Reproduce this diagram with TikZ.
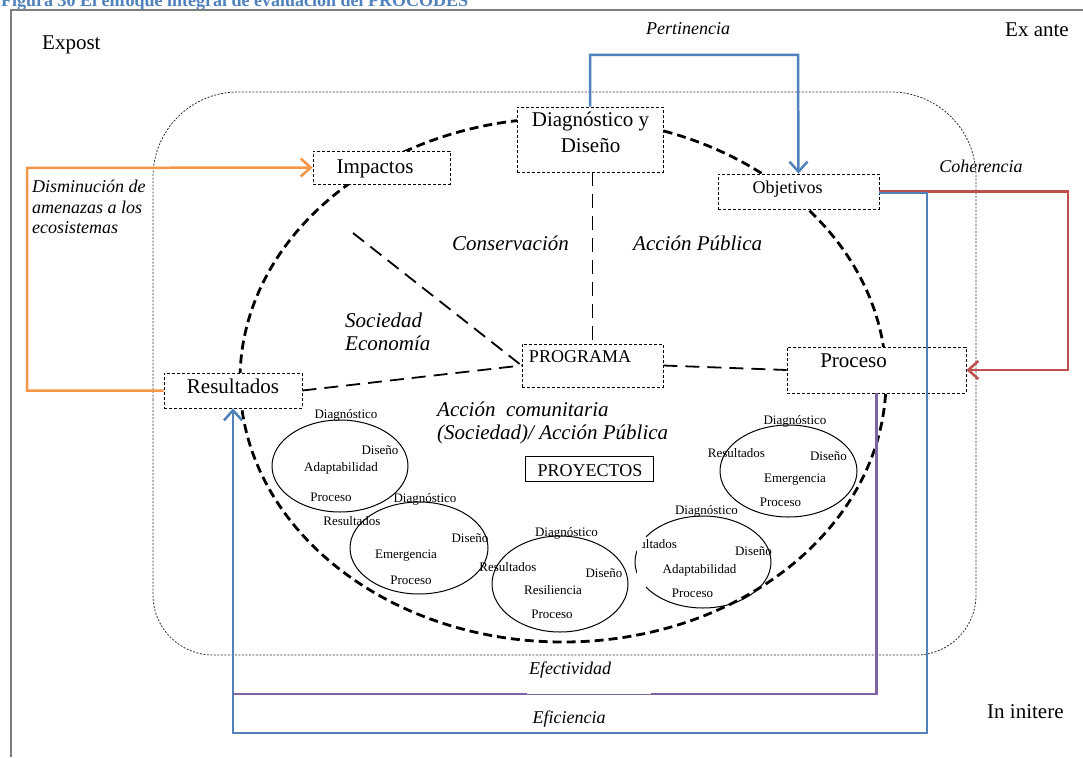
\documentclass[tikz,border=0pt]{standalone}
\usepackage{fontspec}
\setmainfont{Liberation Serif}
\usetikzlibrary{arrows.meta,calc}

\definecolor{headblue}{RGB}{79,129,189}
\definecolor{lnblue}{RGB}{79,129,189}
\definecolor{lnred}{RGB}{192,80,77}
\definecolor{lnorange}{RGB}{247,150,70}
\definecolor{lnpurple}{RGB}{128,100,162}
\definecolor{framegray}{RGB}{125,125,125}

\newcommand{\fsz}[2]{\fontsize{#1}{#2}\selectfont}

\tikzset{
  dbox/.style={draw, dash pattern=on 3pt off 2pt, line width=0.9pt, fill=white, inner sep=0pt},
  sbox/.style={draw, line width=0.9pt, fill=white, inner sep=0pt},
  txtL/.style={font=\fsz{21}{25}, inner sep=0pt, anchor=base},
  txtM/.style={font=\fsz{18}{21}, inner sep=0pt, anchor=base},
  txtS/.style={font=\fsz{13}{15}, inner sep=0pt, anchor=base},
  zoneTxt/.style={font=\fsz{21}{25}\itshape, inner sep=0pt, anchor=base west},
  flowTxt/.style={font=\fsz{18}{21}\itshape, inner sep=0pt, anchor=base},
  conn/.style={line width=2.5pt},
  endtip/.style={-{Straight Barb[length=10pt,width=18pt]}},
  ring/.style={line width=2.8pt, dash pattern=on 9pt off 5pt},
  spoke/.style={line width=1.8pt, dash pattern=on 14pt off 8pt},
  cell/.style={line width=1pt},
  hull/.style={line width=0.8pt, dash pattern=on 2pt off 1.5pt, black!80},
}

\begin{document}
\begin{tikzpicture}[x=1pt,y=-1pt]
\useasboundingbox (0,0) rectangle (1083,757);
\clip (0,0) rectangle (1083,757);
\fill[white] (0,0) rectangle (1083,757);

% caption and page frame
\node[font=\fsz{18}{21}\bfseries, text=headblue, anchor=base west, inner sep=0pt] (caption) at (1,7)
  {Figura 30 El enfoque integral de evaluación del PROCODES};
\draw[framegray, line width=1.5pt] (11,757) -- (11,10) -- (1083,10);

% phase labels
\node[txtL, anchor=base west] (expost) at (42,50) {Expost};
\node[txtL, anchor=base west] (exante) at (1005,37) {Ex ante};
\node[txtL, anchor=base west] (initere) at (987,718) {In initere};

% dotted outer hull
\draw[hull] (153,400) [rounded corners=85pt] -- (153,92) -- (976,92) -- (976,400)
  [rounded corners=60pt] -- (976,655) -- (153,655) -- (153,400);

% program ring
\draw[ring] (563,380) ellipse [x radius=323pt, y radius=262pt];

% boxes
\node[dbox, minimum width=146pt, minimum height=65pt] (diag) at (590,139.5) {};
\node[dbox, minimum width=137pt, minimum height=33pt] (imp) at (381.5,167.5) {};
\node[dbox, minimum width=161pt, minimum height=35pt] (obj) at (798.5,191.5) {};
\node[dbox, minimum width=141pt, minimum height=43pt] (prog) at (592.5,365.5) {};
\node[dbox, minimum width=179pt, minimum height=46pt] (proc) at (876.5,370) {};
\node[dbox, minimum width=138pt, minimum height=35pt] (res) at (233,390.5) {};

% spokes of the ring
\coordinate (sweep) at (353,233);
\draw[spoke] (diag.south -| prog.north) -- (prog.north);
\draw[spoke] (sweep) -- (prog.west);
\draw[spoke] (res.east) -- (prog.west);
\draw[spoke] (prog.east) -- (proc.west);

% redraw boxes on top of the spokes
\node[dbox, minimum width=146pt, minimum height=65pt] at (590,139.5) {};
\node[dbox, minimum width=141pt, minimum height=43pt] at (592.5,365.5) {};
\node[dbox, minimum width=179pt, minimum height=46pt] at (876.5,370) {};
\node[dbox, minimum width=138pt, minimum height=35pt] at (233,390.5) {};

% box texts
\node[txtL] (diagA) at (590.5,127) {Diagnóstico y};
\node[txtL] (diagB) at (590.5,152) {Diseño};
\node[txtL] (impT) at (375,173) {Impactos};
\node[txtM] (objT) at (787.5,193) {Objetivos};
\node[txtM] (progT) at (580,362) {PROGRAMA};
\node[txtL] (procT) at (853.5,367) {Proceso};
\node[txtL] (resT) at (233,393) {Resultados};
\node[sbox, minimum width=128pt, minimum height=25pt] (proy) at (589,468.5) {};
\node[txtM] (proyT) at (590,476) {PROYECTOS};

% zone labels
\node[zoneTxt] (zCons) at (452,250) {Conservación};
\node[zoneTxt] (zAcc) at (633,250) {Acción Pública};
\node[zoneTxt] (zSoc) at (345,327) {Sociedad};
\node[zoneTxt] (zEco) at (345,350) {Economía};
\node[zoneTxt] (zCom) at (437,416) {Acción~~comunitaria};
\node[zoneTxt] (zCom2) at (437,439) {(Sociedad)/ Acción Pública};

% project cells
\draw[cell] (340,466) ellipse [x radius=68pt, y radius=46pt];
\node[txtS] (a1) at (346,418) {Diagnóstico};
\node[txtS] (a2) at (380,454) {Diseño};
\node[txtS] (a3) at (341,471) {Adaptabilidad};
\node[txtS] (a4) at (331,501) {Proceso};

\draw[cell] (419,548) ellipse [x radius=69pt, y radius=46pt];
\node[txtS] (b1) at (425,502) {Diagnóstico};
\node[txtS] (b2) at (352,525) {Resultados};
\node[txtS] (b3) at (470,542) {Diseño};
\node[txtS] (b4) at (406,558) {Emergencia};
\node[txtS] (b5) at (411,584) {Proceso};

\draw[cell] (560,584) ellipse [x radius=68pt, y radius=48pt];
\node[txtS] (c1) at (566.5,536) {Diagnóstico};
\node[txtS] (c2) at (508,571) {Resultados};
\node[txtS] (c3) at (604,577) {Diseño};
\node[txtS] (c4) at (553,594) {Resiliencia};
\node[txtS] (c5) at (552,618) {Proceso};

\draw[cell] (703,562) ellipse [x radius=68pt, y radius=46pt];
\fill[white] (636.5,528) rectangle (646,592);
\begin{scope}
  \clip (642,530) rectangle (690,560);
  \node[txtS] (d2) at (648.5,548) {Resultados};
\end{scope}
\node[txtS] (d1) at (706.5,514) {Diagnóstico};
\node[txtS] (d3) at (753.5,555) {Diseño};
\node[txtS] (d4) at (699.5,573) {Adaptabilidad};
\node[txtS] (d5) at (692.5,597) {Proceso};

\draw[cell] (788.5,471) ellipse [x radius=68.5pt, y radius=46pt];
\node[txtS] (e1) at (795,424) {Diagnóstico};
\node[txtS] (e2) at (736.5,457) {Resultados};
\node[txtS] (e3) at (828.5,460) {Diseño};
\node[txtS] (e4) at (795,482) {Emergencia};
\node[txtS] (e5) at (780.5,506) {Proceso};

% evaluation loops
\coordinate (orangeL) at (27,168);
\draw[conn, lnorange, endtip] (res.west) -| (orangeL) -- (imp.west);

\coordinate (pertTop) at (798,55);
\draw[conn, lnblue, endtip] (diag.north) |- (pertTop) -- (obj.north);

\coordinate (cohR) at (1068,370);
\draw[conn, lnred, endtip] (obj.east) -| (cohR) -- (proc.east);

\coordinate (efiR) at (927,733);
\draw[conn, lnblue, endtip] ([yshift=-1.5pt]obj.east) -| (efiR) -| (res.south);

\coordinate (efeA) at (876.5,694);
\coordinate (efeB) at (651,694);
\coordinate (efeC) at (527,694);
\coordinate (efeD) at (233,694);
\draw[conn, lnpurple] (proc.south) -- (efeA) -- (efeB);
\draw[lnpurple, line width=0.8pt] (efeB) -- (efeC);
\draw[conn, lnpurple] (efeC) -- (efeD);

% loop labels
\node[flowTxt] (lPert) at (688,35) {Pertinencia};
\node[flowTxt] (lCoh) at (981,172) {Coherencia};
\node[flowTxt] (lEfe) at (570,674) {Efectividad};
\node[flowTxt] (lEfi) at (569,723) {Eficiencia};
\node[font=\fsz{18}{20.5}\itshape, inner sep=0pt, anchor=base west] (lDis1) at (32,192) {Disminución de};
\node[font=\fsz{18}{20.5}\itshape, inner sep=0pt, anchor=base west] (lDis2) at (32,213) {amenazas a los};
\node[font=\fsz{18}{20.5}\itshape, inner sep=0pt, anchor=base west] (lDis3) at (32,233) {ecosistemas};
\end{tikzpicture}
\end{document}
